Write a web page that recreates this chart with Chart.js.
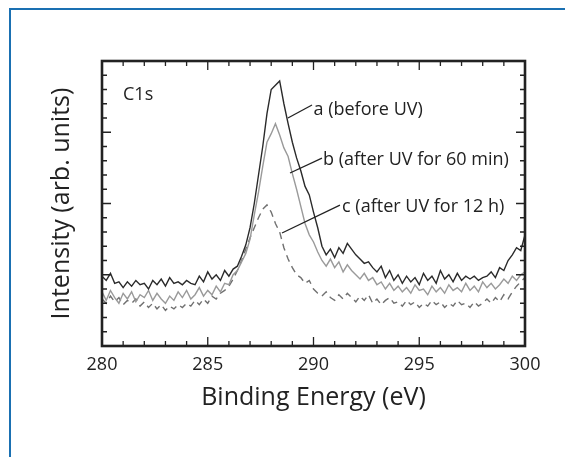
<!DOCTYPE html>
<html>
<head>
<meta charset="utf-8">
<script src="https://cdn.jsdelivr.net/npm/chart.js@4.4.1/dist/chart.umd.min.js"></script>
<style>
  body { margin: 0; background: #fff; }
  #wrap { position: relative; width: 565px; height: 457px; }
  #frame { position: absolute; left: 9px; top: 8px; right: 0; bottom: 0;
           border-left: 2px solid #1a70b2; border-top: 2px solid #1a70b2; pointer-events: none; }
</style>
</head>
<body>
<div id="wrap">
  <canvas id="xps" width="565" height="457"></canvas>
  <div id="frame"></div>
</div>
<script>
// energy grid (eV)
const eStart = 280;
const eStep = 0.2;

// a (before UV)
const beforeUV = [
  4.9, 4.6, 5.1, 4.4, 4.5, 4.1, 4.5, 4.2, 4.6, 4.3,
  4.4, 4.0, 4.6, 4.3, 4.7, 4.2, 4.8, 4.4, 4.5, 4.3,
  4.6, 4.4, 4.3, 4.9, 4.5, 5.2, 4.7, 5.0, 4.6, 5.3,
  4.9, 5.4, 5.6, 6.3, 7.1, 8.3, 10.0, 12.0, 14.0, 16.3,
  18.0, 18.3, 18.6, 17.0, 15.6, 14.3, 13.2, 12.3, 11.2, 10.6,
  9.4, 8.3, 7.0, 6.4, 6.8, 6.2, 6.9, 6.5, 7.2, 6.8,
  6.4, 6.1, 5.8, 5.9, 5.5, 5.2, 5.6, 4.8, 5.3, 4.6,
  5.0, 4.4, 4.9, 4.5, 4.8, 4.3, 5.1, 4.6, 4.9, 4.4,
  5.3, 4.7, 5.0, 4.5, 5.1, 4.6, 4.9, 4.7, 4.9, 4.6,
  4.8, 4.9, 5.2, 4.8, 5.5, 5.3, 6.0, 6.4, 6.9, 6.7,
  7.8
];

// b (after UV for 60 min)
const uv60min = [
  3.8, 3.2, 3.9, 3.4, 3.0, 3.7, 3.3, 3.8, 3.1, 3.6,
  3.4, 3.9, 3.2, 3.7, 3.3, 3.0, 3.5, 3.2, 3.8, 3.4,
  3.9, 3.3, 3.6, 4.1, 3.5, 3.9, 3.6, 4.2, 3.8, 4.4,
  4.3, 5.0, 5.3, 5.9, 6.5, 7.5, 9.2, 10.8, 12.6, 14.3,
  14.9, 15.6, 14.8, 13.9, 13.3, 12.1, 11.0, 9.8, 8.6, 7.8,
  7.3, 6.6, 6.0, 5.6, 6.1, 5.5, 5.9, 5.2, 5.7, 5.3,
  5.0, 4.7, 5.1, 4.6, 4.8, 4.3, 4.5, 4.0, 4.4, 3.9,
  4.2, 3.8, 4.1, 3.7, 4.3, 3.9, 4.0, 3.6, 4.2, 3.8,
  4.1, 3.7, 4.3, 3.9, 4.1, 3.8, 4.4, 3.9, 4.2, 3.8,
  4.5, 4.1, 4.4, 4.0, 4.3, 4.7, 4.4, 4.9, 4.6, 5.0,
  5.2
];

// c (after UV for 12 h)
const uv12h = [
  3.3, 3.0, 3.5, 3.1, 3.4, 2.9, 3.2, 3.0, 3.3, 2.8,
  3.1, 2.7, 3.0, 2.6, 2.9, 2.5, 2.8, 2.6, 2.9, 2.7,
  3.0, 2.8, 3.2, 2.9, 3.3, 3.0, 3.5, 3.3, 3.7, 3.9,
  4.2, 4.7, 5.3, 6.0, 6.8, 7.6, 8.3, 9.0, 9.6, 9.9,
  9.4, 8.6, 8.0, 6.9, 6.1, 5.5, 5.0, 4.8, 4.4, 4.6,
  4.0, 3.7, 3.5, 3.8, 3.4, 3.2, 3.6, 3.3, 3.7, 3.4,
  3.1, 3.5, 3.2, 3.6, 3.0, 3.3, 2.9, 3.2, 3.4, 3.0,
  3.1, 2.8, 3.2, 2.9, 3.1, 2.7, 3.0, 2.8, 3.2, 2.9,
  3.1, 2.7, 3.0, 2.8, 3.2, 2.9, 3.0, 2.7, 3.1, 2.8,
  3.0, 3.3, 3.0, 3.4, 3.1, 3.6, 3.3, 3.8, 4.2, 4.5,
  4.8
];

// labels and leader lines, in data units: [textX, textY, lineFromX, lineFromY, lineToX, lineToY]
const labels = ['a (before UV)', 'b (after UV for 60 min)', 'c (after UV for 12 h)'];
const labelPos = [
  [290.0, 16.6, 288.79, 16.0, 289.93, 16.91],
  [290.45, 13.05, 288.89, 12.14, 290.40, 13.19],
  [291.35, 9.75, 288.51, 7.93, 291.25, 9.89]
];

const FONT = '"Open Sans", "Noto Sans", sans-serif';

const toPoints = (arr) => arr.map((v, i) => ({x: eStart + i * eStep, y: v}));

// frame, inward ticks and text labels
const framePlugin = {
  id: 'frame',
  afterDraw(chart) {
    const {ctx, chartArea: a, scales: {x, y}} = chart;
    ctx.save();
    ctx.strokeStyle = '#222';
    ctx.lineWidth = 1.3;
    ctx.beginPath();
    for (let v = 280; v <= 300; v++) {
      const px = x.getPixelForValue(v);
      const len = v % 5 === 0 ? 9 : 5;
      ctx.moveTo(px, a.bottom); ctx.lineTo(px, a.bottom - len);
      ctx.moveTo(px, a.top); ctx.lineTo(px, a.top + len);
    }
    for (let v = 0; v <= 20; v++) {
      const py = y.getPixelForValue(v);
      const len = v % 5 === 0 ? 9 : 5;
      ctx.moveTo(a.left, py); ctx.lineTo(a.left + len, py);
      ctx.moveTo(a.right, py); ctx.lineTo(a.right - len, py);
    }
    ctx.stroke();

    ctx.lineWidth = 2.6;
    ctx.strokeRect(a.left, a.top, a.right - a.left, a.bottom - a.top);

    // annotations
    ctx.fillStyle = '#222';
    ctx.font = '18px ' + FONT;
    ctx.textBaseline = 'middle';
    ctx.fillText('C1s', a.left + 21, a.top + 34);
    ctx.lineWidth = 1.3;
    labels.forEach((t, i) => {
      const p = labelPos[i];
      ctx.beginPath();
      ctx.moveTo(x.getPixelForValue(p[2]), y.getPixelForValue(p[3]));
      ctx.lineTo(x.getPixelForValue(p[4]), y.getPixelForValue(p[5]));
      ctx.stroke();
      ctx.fillText(t, x.getPixelForValue(p[0]), y.getPixelForValue(p[1]));
    });
    ctx.restore();
  }
};

new Chart(document.getElementById('xps'), {
  type: 'line',
  data: {
    datasets: [
      {label: 'a', data: toPoints(beforeUV), borderColor: '#2a2a2a', borderWidth: 1.4},
      {label: 'b', data: toPoints(uv60min), borderColor: '#9a9a9a', borderWidth: 1.4},
      {label: 'c', data: toPoints(uv12h), borderColor: '#707070', borderWidth: 1.4, borderDash: [7, 5]}
    ]
  },
  options: {
    responsive: false,
    animation: false,
    events: [],
    elements: {point: {radius: 0}, line: {tension: 0}},
    layout: {padding: {top: 61, right: 40, left: 0, bottom: 0}},
    plugins: {legend: {display: false}, tooltip: {enabled: false}},
    scales: {
      x: {
        type: 'linear', min: 280, max: 300,
        grid: {display: false, drawTicks: false},
        border: {display: false},
        ticks: {stepSize: 5, padding: 8, color: '#222', font: {family: FONT, size: 18}},
        title: {display: true, text: 'Binding Energy (eV)', color: '#222',
                font: {family: FONT, size: 25}, padding: {bottom: 44}},
        afterFit: (s) => { s.height = 111; }
      },
      y: {
        min: 0, max: 20,
        grid: {display: false, drawTicks: false},
        border: {display: false},
        ticks: {display: false},
        title: {display: true, text: 'Intensity (arb. units)', color: '#222',
                font: {family: FONT, size: 25}, padding: {top: 47}},
        afterFit: (s) => { s.width = 102; }
      }
    }
  },
  plugins: [framePlugin]
});
</script>
</body>
</html>
